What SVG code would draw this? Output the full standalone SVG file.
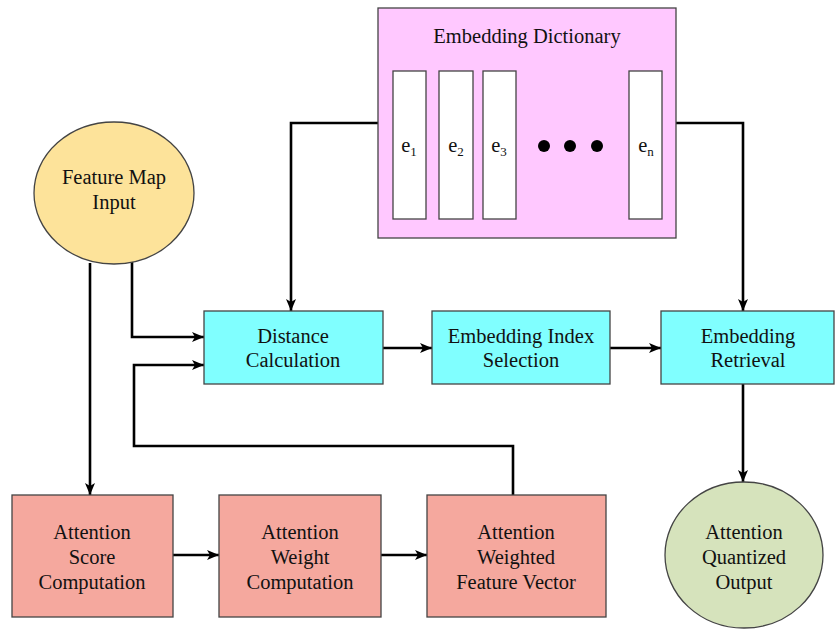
<svg xmlns="http://www.w3.org/2000/svg" width="835" height="629" viewBox="0 0 835 629" font-family="Liberation Serif, Times New Roman, serif">
<style>
text{font-size:20.5px;fill:#111;text-anchor:middle}
.box{stroke:#444;stroke-width:1.3}
.cyan{fill:#80FFFF}
.red{fill:#F5A89E}
.col{fill:#fff;stroke:#444;stroke-width:1.3}
.c{fill:none;stroke:#000;stroke-width:2.6}
</style>
<defs>
<marker id="ah" viewBox="0 0 12 10" refX="12" refY="5" markerWidth="12" markerHeight="10" markerUnits="userSpaceOnUse" orient="auto">
<path d="M0,0 L12,5 L0,10 L3,5 Z" fill="#000"/>
</marker>
</defs>
<rect width="835" height="629" fill="#fff"/>
<g id="connectors">
<path class="c" d="M378,123 H291 V311" marker-end="url(#ah)"/>
<path class="c" d="M676,123 H743 V311" marker-end="url(#ah)"/>
<path class="c" d="M132,262 V337 H204" marker-end="url(#ah)"/>
<path class="c" d="M90,263 V495" marker-end="url(#ah)"/>
<path class="c" d="M513,495 V446 H134 V365 H204" marker-end="url(#ah)"/>
<path class="c" d="M383,348 H432" marker-end="url(#ah)"/>
<path class="c" d="M610,348 H661" marker-end="url(#ah)"/>
<path class="c" d="M743,384 V482" marker-end="url(#ah)"/>
<path class="c" d="M173,555 H219" marker-end="url(#ah)"/>
<path class="c" d="M381,555 H427" marker-end="url(#ah)"/>
</g>
<g id="dictionary">
<rect class="box" x="378" y="8" width="298" height="230" fill="#FFC8FF"/>
<text x="527" y="43">Embedding Dictionary</text>
<rect class="col" x="393" y="71" width="33" height="148"/>
<rect class="col" x="439" y="71" width="34" height="148"/>
<rect class="col" x="483" y="71" width="33" height="148"/>
<rect class="col" x="629" y="71" width="33" height="148"/>
<text x="409" y="152">e<tspan font-size="13" dy="4">1</tspan></text>
<text x="456" y="152">e<tspan font-size="13" dy="4">2</tspan></text>
<text x="499" y="152">e<tspan font-size="13" dy="4">3</tspan></text>
<text x="646" y="152">e<tspan font-size="13" dy="4">n</tspan></text>
<circle cx="544" cy="146" r="6" fill="#000"/>
<circle cx="570" cy="146" r="6" fill="#000"/>
<circle cx="597" cy="146" r="6" fill="#000"/>
</g>
<g id="feature-map-input">
<ellipse class="box" cx="114" cy="193" rx="80" ry="71" fill="#FDE39A"/>
<text x="114" y="184">Feature Map</text>
<text x="114" y="209">Input</text>
</g>
<g id="distance-calculation">
<rect class="box cyan" x="204" y="311" width="179" height="73"/>
<text x="293" y="343">Distance</text>
<text x="293" y="367">Calculation</text>
</g>
<g id="embedding-index-selection">
<rect class="box cyan" x="432" y="311" width="178" height="73"/>
<text x="521" y="343">Embedding Index</text>
<text x="521" y="367">Selection</text>
</g>
<g id="embedding-retrieval">
<rect class="box cyan" x="661" y="311" width="173" height="73"/>
<text x="748" y="343">Embedding</text>
<text x="748" y="367">Retrieval</text>
</g>
<g id="attention-score">
<rect class="box red" x="12" y="495" width="161" height="122"/>
<text x="92" y="539">Attention</text>
<text x="92" y="564">Score</text>
<text x="92" y="589">Computation</text>
</g>
<g id="attention-weight">
<rect class="box red" x="219" y="495" width="162" height="122"/>
<text x="300" y="539">Attention</text>
<text x="300" y="564">Weight</text>
<text x="300" y="589">Computation</text>
</g>
<g id="attention-weighted-feature-vector">
<rect class="box red" x="427" y="495" width="179" height="122"/>
<text x="516" y="539">Attention</text>
<text x="516" y="564">Weighted</text>
<text x="516" y="589">Feature Vector</text>
</g>
<g id="attention-quantized-output">
<ellipse class="box" cx="744" cy="555" rx="79" ry="73" fill="#D6E3BC"/>
<text x="744" y="539">Attention</text>
<text x="744" y="564">Quantized</text>
<text x="744" y="589">Output</text>
</g>
</svg>
